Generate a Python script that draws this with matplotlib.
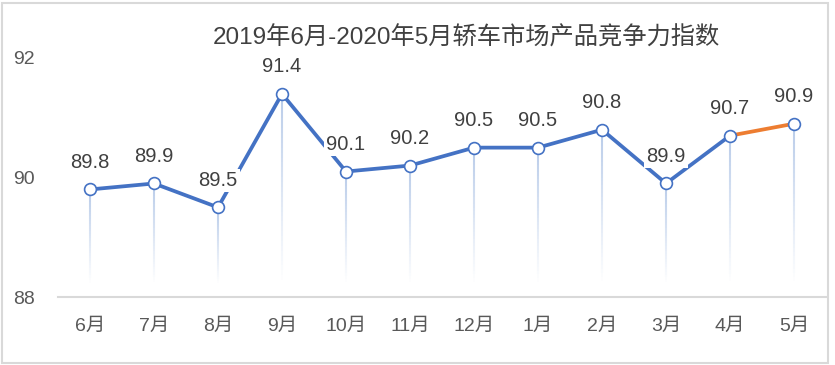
import numpy as np
import matplotlib
matplotlib.use("Agg")
import matplotlib.pyplot as plt
from matplotlib.collections import LineCollection
from matplotlib.patches import Rectangle

plt.rcParams['font.family'] = ['Liberation Sans', 'Noto Sans CJK SC']

months = ['6月', '7月', '8月', '9月', '10月', '11月', '12月', '1月', '2月', '3月', '4月', '5月']
values = [89.8, 89.9, 89.5, 91.4, 90.1, 90.2, 90.5, 90.5, 90.8, 89.9, 90.7, 90.9]
title = '2019年6月-2020年5月轿车市场产品竞争力指数'

blue = '#4472C4'
orange = '#ED7D31'
txt = '#404040'

fig = plt.figure(figsize=(8.35, 3.65), dpi=100)
ax = fig.add_axes([58 / 835, 68 / 365, 768 / 835, 239 / 365])
x = np.arange(len(months))

# fading drop lines
for xi, v in zip(x, values):
    ys = np.linspace(v, 88.2, 40)
    segs = [[(xi, ys[i]), (xi, ys[i + 1])] for i in range(len(ys) - 1)]
    alphas = np.linspace(0.6, 0.0, len(segs))
    cols = [(0.55, 0.67, 0.86, a) for a in alphas]
    ax.add_collection(LineCollection(segs, colors=cols, linewidths=1.5, zorder=1))

ax.plot(x[:-1], values[:-1], color=blue, lw=2.7, zorder=2, solid_capstyle='round')
ax.plot(x[-2:], values[-2:], color=orange, lw=2.7, zorder=2, solid_capstyle='round')
ax.plot(x, values, 'o', ms=8.5, mfc='white', mec=blue, mew=1.2, zorder=4)

for xi, v in zip(x, values):
    ax.annotate(f'{v:.1f}', (xi, v), xytext=(0, 19.5), textcoords='offset points',
                ha='center', va='center', fontsize=14.5, color=txt, zorder=3,
                bbox=dict(boxstyle='square,pad=0.1', fc='white', ec='none'),
                annotation_clip=False)

ax.set_xlim(-0.5, len(months) - 0.5)
ax.set_ylim(88, 92)
ax.set_yticks([88, 90, 92])
ax.set_xticks(x)
ax.set_xticklabels(months)
for s in ['top', 'right', 'left']:
    ax.spines[s].set_visible(False)
ax.spines['bottom'].set_color('#D9D9D9')
ax.spines['bottom'].set_linewidth(1.5)
ax.tick_params(axis='both', length=0, labelsize=14, colors='#595959')
ax.tick_params(axis='y', pad=17)
ax.tick_params(axis='x', pad=15)

fig.text(466 / 835, 1 - 38 / 365, title, ha='center', va='center', fontsize=17.5, color=txt)

fig.patches.append(Rectangle((2 / 835, 2 / 365), 826 / 835, 360 / 365, transform=fig.transFigure,
                             fill=False, ec='#D9D9D9', lw=1.5))

fig.savefig('out.png', dpi=100)
